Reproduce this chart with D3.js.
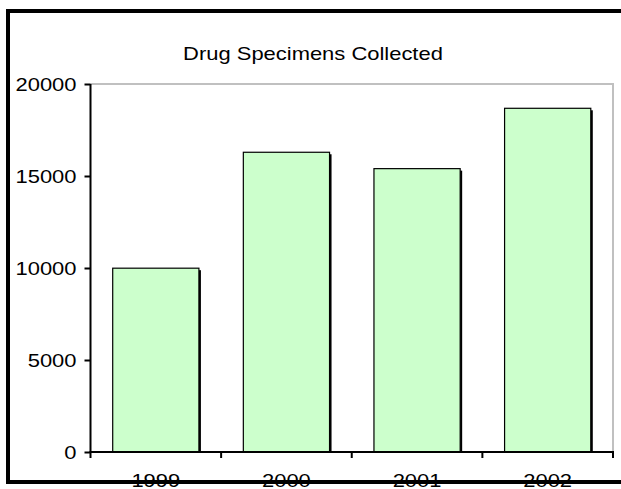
<!DOCTYPE html>
<html>
<head>
<meta charset="utf-8">
<script src="https://cdn.jsdelivr.net/npm/d3@7"></script>
<style>
  html, body { margin: 0; padding: 0; background: #fff; }
  svg { display: block; }
  text { font-family: Arial, "Liberation Sans", sans-serif; fill: #000; }
</style>
</head>
<body>
<svg id="chart" width="621" height="489"></svg>
<script>
const title = "Drug Specimens Collected";
const years = ["1999", "2000", "2001", "2002"];
const specimens = [9990, 16290, 15400, 18680];
const yTicks = [0, 5000, 10000, 15000, 20000];

const W = 621, H = 489;
const svg = d3.select("#chart");
const sx = 1.22;          // horizontal text stretch
const fontSize = 18;

const plot = { left: 90.5, right: 613, top: 84, bottom: 452 };

const x = d3.scaleBand()
  .domain(years)
  .range([plot.left, plot.right])
  .paddingInner(0.34)
  .paddingOuter(0.17);

const y = d3.scaleLinear()
  .domain([0, 20000])
  .range([plot.bottom, plot.top]);

function stretch(sel, ax) {
  sel.attr("transform", function() {
    const a = ax != null ? ax : +d3.select(this).attr("x") || 0;
    return `translate(${a},0) scale(${sx},1) translate(${-a},0)`;
  });
}

// plot area frame (grey top + right)
svg.append("path")
  .attr("d", `M${plot.left},${plot.top}H${plot.right}V${plot.bottom}`)
  .attr("fill", "none")
  .attr("stroke", "#c0c0c0")
  .attr("stroke-width", 2);

// bars: shadow + bar
const data = years.map((yr, i) => ({ yr, v: specimens[i] }));
svg.append("g").selectAll("rect")
  .data(data).join("rect")
  .attr("x", d => x(d.yr) + 2)
  .attr("y", d => y(d.v) + 2)
  .attr("width", x.bandwidth())
  .attr("height", d => y(0) - y(d.v) - 2)
  .attr("fill", "#000");

svg.append("g").selectAll("rect")
  .data(data).join("rect")
  .attr("x", d => x(d.yr))
  .attr("y", d => y(d.v))
  .attr("width", x.bandwidth())
  .attr("height", d => y(0) - y(d.v))
  .attr("fill", "#ccffcc")
  .attr("stroke", "#000")
  .attr("stroke-width", 1.2);

// y axis
const yAxis = svg.append("g")
  .attr("transform", `translate(${plot.left},0)`)
  .call(d3.axisLeft(y).tickValues(yTicks).tickFormat(d3.format("d")).tickSize(6).tickPadding(8));
yAxis.select(".domain").attr("stroke", "#000").attr("stroke-width", 2)
  .attr("d", `M0,${plot.top}V${plot.bottom}`);
yAxis.selectAll(".tick line").attr("stroke", "#000").attr("stroke-width", 2);
yAxis.selectAll(".tick text")
  .attr("font-size", fontSize)
  .attr("font-family", "Arial, 'Liberation Sans', sans-serif")
  .attr("dy", "0.36em")
  .each(function() { stretch(d3.select(this), -14); });

// x axis line and ticks at category boundaries
const step = x.step();
const bounds = years.map(yr => x(yr) - step * x.paddingInner() / 2);
bounds.push(plot.right);
const xg = svg.append("g");
xg.append("line")
  .attr("x1", plot.left - 1).attr("x2", plot.right + 1)
  .attr("y1", plot.bottom).attr("y2", plot.bottom)
  .attr("stroke", "#000").attr("stroke-width", 2);
xg.selectAll("line.tk").data(bounds).join("line")
  .attr("class", "tk")
  .attr("x1", d => d).attr("x2", d => d)
  .attr("y1", plot.bottom).attr("y2", plot.bottom + 6)
  .attr("stroke", "#000").attr("stroke-width", 2);
xg.selectAll("text").data(years).join("text")
  .attr("x", d => x(d) + x.bandwidth() / 2)
  .attr("y", 487)
  .attr("text-anchor", "middle")
  .attr("font-size", fontSize)
  .text(d => d)
  .each(function() { stretch(d3.select(this)); });

// title
svg.append("text")
  .attr("x", 313)
  .attr("y", 60)
  .attr("text-anchor", "middle")
  .attr("font-size", fontSize)
  .text(title)
  .each(function() { stretch(d3.select(this)); });

// outer chart border
svg.append("path")
  .attr("d", `M630,11H8V482H630`)
  .attr("fill", "none")
  .attr("stroke", "#000")
  .attr("stroke-width", 4);
</script>
</body>
</html>
